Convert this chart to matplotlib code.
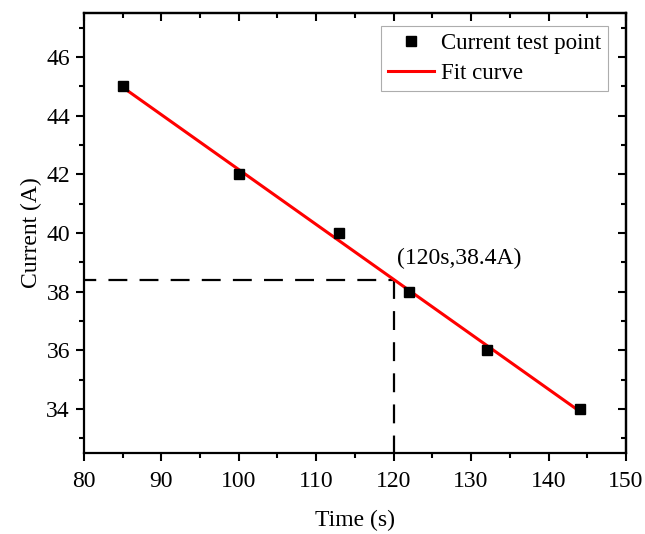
import numpy as np
import matplotlib
matplotlib.use("Agg")
import matplotlib.pyplot as plt
from matplotlib.ticker import MultipleLocator

time_s = [85, 100, 113, 122, 132, 144]
current_a = [45, 42, 40, 38, 36, 34]
mark_x = 120
mark_y = 38.4
mark_label = "(120s,38.4A)"

plt.rcParams['font.family'] = ['Liberation Serif', 'DejaVu Serif']

fig = plt.figure(figsize=(6.45, 5.34), dpi=100)
ax = fig.add_axes([0.130, 0.1517, 0.8405, 0.824])

coef = np.polyfit(time_s, current_a, 1)
fx = np.array([min(time_s), max(time_s)])
fy = np.polyval(coef, fx)

ax.plot(time_s, current_a, 's', color='black', markersize=7, label='Current test point', zorder=3)
ax.plot(fx, fy, '-', color='red', linewidth=2.2, label='Fit curve', zorder=2)

ax.set_xlim(80, 150)
ax.set_ylim(32.5, 47.5)

# dashed guide lines
ax.plot([80, mark_x], [mark_y, mark_y], color='black', linewidth=1.6,
        linestyle=(3, (8.5, 5.5)), zorder=1)
ax.plot([mark_x, mark_x], [mark_y, 32.5], color='black', linewidth=1.6,
        linestyle=(0, (8.5, 5.5)), zorder=1)
ax.text(120.4, 39.13, mark_label, fontsize=17, ha='left', va='center')

ax.xaxis.set_major_locator(MultipleLocator(10))
ax.xaxis.set_minor_locator(MultipleLocator(5))
ax.yaxis.set_major_locator(MultipleLocator(2))
ax.yaxis.set_minor_locator(MultipleLocator(1))

for s in ax.spines.values():
    s.set_linewidth(1.6)

ax.tick_params(which='both', direction='out', width=1.5, labelsize=17,
               top=False, right=False)
ax.tick_params(which='major', length=6)
ax.tick_params(which='minor', length=3.5)
ax.tick_params(axis='x', which='major', pad=7)
ax.tick_params(axis='y', which='major', pad=4)

# inner ticks on top and right
axt = ax.secondary_xaxis('top')
axt.xaxis.set_major_locator(MultipleLocator(10))
axt.xaxis.set_minor_locator(MultipleLocator(5))
axt.tick_params(which='both', direction='in', width=1.5, labeltop=False)
axt.tick_params(which='major', length=6)
axt.tick_params(which='minor', length=3.5)
axt.spines['top'].set_linewidth(1.6)
axr = ax.secondary_yaxis('right')
axr.yaxis.set_major_locator(MultipleLocator(2))
axr.yaxis.set_minor_locator(MultipleLocator(1))
axr.tick_params(which='both', direction='in', width=1.5, labelright=False)
axr.tick_params(which='major', length=6)
axr.tick_params(which='minor', length=3.5)
axr.spines['right'].set_linewidth(1.6)

ax.set_xlabel('Time (s)', fontsize=17, labelpad=13)
ax.set_ylabel('Current (A)', fontsize=17, labelpad=3)

leg = ax.legend(loc='upper right', bbox_to_anchor=(0.967, 0.970), fontsize=16.5,
                frameon=True, fancybox=False, edgecolor='#999999',
                handlelength=2.0, handletextpad=0.3, borderpad=0.3,
                labelspacing=0.4, borderaxespad=0)
leg.get_frame().set_linewidth(0.8)

fig.savefig('out.png', dpi=100)
